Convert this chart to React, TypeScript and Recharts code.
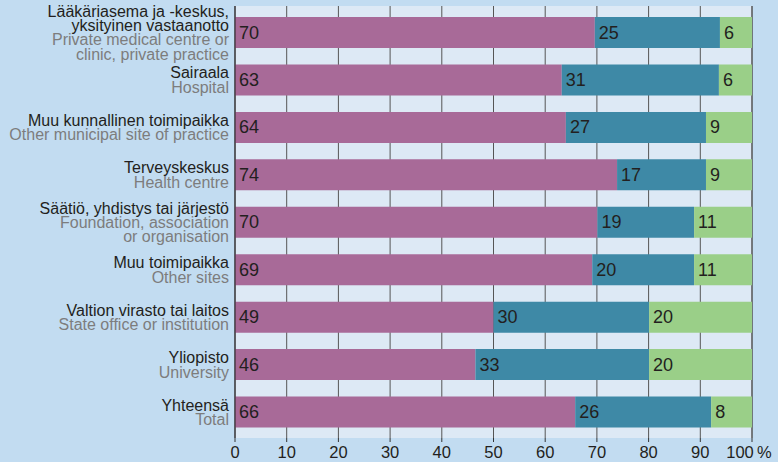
import React from 'react';
import { BarChart, Bar, XAxis, YAxis, CartesianGrid, LabelList } from 'recharts';

// Category names, Finnish (dark) and English (grey), one entry per row
const namesFi: string[][] = [
  ['Lääkäriasema ja -keskus,', 'yksityinen vastaanotto'],
  ['Sairaala'],
  ['Muu kunnallinen toimipaikka'],
  ['Terveyskeskus'],
  ['Säätiö, yhdistys tai järjestö'],
  ['Muu toimipaikka'],
  ['Valtion virasto tai laitos'],
  ['Yliopisto'],
  ['Yhteensä'],
];
const namesEn: string[][] = [
  ['Private medical centre or', 'clinic, private practice'],
  ['Hospital'],
  ['Other municipal site of practice'],
  ['Health centre'],
  ['Foundation, association', 'or organisation'],
  ['Other sites'],
  ['State office or institution'],
  ['University'],
  ['Total'],
];

// Segment widths as drawn (share, %)
const pinkShare = [69.6, 63.2, 64.0, 73.9, 70.1, 69.1, 50.0, 46.5, 65.8];
const tealShare = [24.2, 30.4, 27.1, 17.2, 18.7, 19.7, 30.1, 33.6, 26.3];
const greenShare = [6.2, 6.4, 8.9, 8.9, 11.2, 11.2, 19.9, 19.9, 7.9];

// Printed values
const pinkLabel = [70, 63, 64, 74, 70, 69, 49, 46, 66];
const tealLabel = [25, 31, 27, 17, 19, 20, 30, 33, 26];
const greenLabel = [6, 6, 9, 9, 11, 11, 20, 20, 8];

const xTicks = [0, 10, 20, 30, 40, 50, 60, 70, 80, 90, 100];

const data = namesFi.map((_, i) => ({
  id: String(i),
  pink: pinkShare[i],
  teal: tealShare[i],
  green: greenShare[i],
  pinkLabel: pinkLabel[i],
  tealLabel: tealLabel[i],
  greenLabel: greenLabel[i],
}));

const FONT = '"Liberation Sans", Arial, Helvetica, sans-serif';

const CategoryTick = (props: any) => {
  const { x, y, payload } = props;
  const i = Number(payload.value);
  const lines = [
    ...namesFi[i].map((t) => ({ t, c: '#231f20' })),
    ...namesEn[i].map((t) => ({ t, c: '#7d7d7d' })),
  ];
  const lh = 14.4;
  const first = y - ((lines.length - 1) * lh) / 2 + 5.5;
  return (
    <g>
      {lines.map((l, k) => (
        <text
          key={k}
          x={x}
          y={first + k * lh}
          textAnchor="end"
          fontSize={16}
          fontFamily={FONT}
          fill={l.c}
        >
          {l.t}
        </text>
      ))}
    </g>
  );
};

const ValueTick = (props: any) => {
  const { x, y, payload } = props;
  const v = payload.value;
  return (
    <text
      x={v === 100 ? x - 3 : x}
      y={y + 14}
      textAnchor="middle"
      fontSize={16.5}
      fontFamily={FONT}
      fill="#231f20"
    >
      {v === 100 ? '100\u2009%' : v}
    </text>
  );
};

const SegmentLabel = (props: any) => {
  const { x, y, height, value } = props;
  return (
    <text
      x={x + 4}
      y={y + height / 2}
      dominantBaseline="central"
      fontSize={18}
      fontFamily={FONT}
      fill="#231f20"
    >
      {value}
    </text>
  );
};

export default function App() {
  return (
    <div style={{ position: 'absolute', left: 0, top: 0, width: 778, height: 462, background: '#c2dcf1' }}>
      <BarChart
        width={778}
        height={462}
        data={data}
        layout="vertical"
        margin={{ top: 6, right: 26, left: 0, bottom: 0 }}
        barSize={31}
      >
        <CartesianGrid horizontal={false} stroke="#555555" fill="#dde9f5" fillOpacity={1} />
        <XAxis
          type="number"
          domain={[0, 100]}
          ticks={xTicks}
          axisLine={false}
          tickLine={{ stroke: '#333333' }}
          tickSize={4}
          height={24}
          tick={<ValueTick />}
          interval={0}
        />
        <YAxis
          type="category"
          dataKey="id"
          width={235}
          axisLine={{ stroke: '#231f20' }}
          tickLine={false}
          tickMargin={0}
          tick={<CategoryTick />}
          padding={{ top: 3, bottom: 2 }}
          interval={0}
        />
        <Bar dataKey="pink" stackId="a" fill="#a86a98" isAnimationActive={false}>
          <LabelList dataKey="pinkLabel" content={<SegmentLabel />} />
        </Bar>
        <Bar dataKey="teal" stackId="a" fill="#3e89a6" isAnimationActive={false}>
          <LabelList dataKey="tealLabel" content={<SegmentLabel />} />
        </Bar>
        <Bar dataKey="green" stackId="a" fill="#9acf88" isAnimationActive={false}>
          <LabelList dataKey="greenLabel" content={<SegmentLabel />} />
        </Bar>
      </BarChart>
    </div>
  );
}
